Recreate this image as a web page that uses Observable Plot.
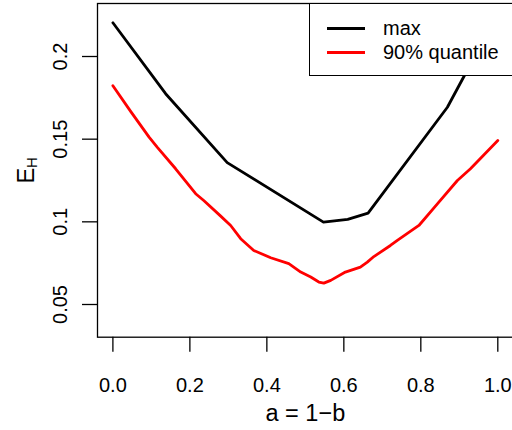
<!DOCTYPE html>
<html>
<head>
<meta charset="utf-8">
<script src="https://cdn.jsdelivr.net/npm/d3@7"></script>
<script src="https://cdn.jsdelivr.net/npm/@observablehq/plot@0.6"></script>
<style>
  html, body { margin: 0; padding: 0; background: #fff; }
  #wrap { position: relative; width: 512px; height: 430px; overflow: hidden;
          font-family: "Liberation Sans", Arial, Helvetica, sans-serif; }
  #wrap svg { display: block; }
  #wrap svg g[aria-label$="tick"] path, #wrap svg g.tick line { stroke-width: 1.3px; }
  #legend { position: absolute; left: 309px; top: 3px; width: 220px; height: 73px;
            background: #fff; border: 1.3px solid #000; box-sizing: border-box; }
  .item { position: absolute; left: 0; height: 24px; display: flex; align-items: center; }
  .sw { width: 38px; height: 3px; margin-left: 17px; margin-right: 18px; }
  .lab { font-size: 20px; color: #000; line-height: 24px; white-space: pre; }
</style>
</head>
<body>
<div id="wrap"></div>
<script>
// ---- data ----
const seriesNames = ["max", "90% quantile"];
const seriesColors = ["#000000", "#ff0000"];

const maxA = [0, 0.137, 0.297, 0.547, 0.61, 0.663, 0.869, 1.0];
const maxE = [0.2204, 0.1775, 0.1358, 0.0998, 0.1015, 0.1053, 0.1693, 0.226];

const q90A = [0, 0.047, 0.094, 0.115, 0.163, 0.215, 0.236, 0.278, 0.306, 0.332, 0.366, 0.41, 0.457,
              0.488, 0.514, 0.535, 0.548, 0.566, 0.604, 0.643, 0.661, 0.678, 0.721, 0.739, 0.795,
              0.843, 0.895, 0.929, 1.0];
const q90E = [0.1823, 0.1665, 0.1512, 0.1452, 0.1321, 0.117, 0.1129, 0.1039, 0.0978, 0.0898, 0.0827, 0.0783, 0.0747,
              0.0696, 0.0666, 0.0636, 0.0629, 0.0646, 0.0696, 0.0726, 0.0756, 0.079, 0.0857, 0.0888, 0.0978,
              0.1109, 0.125, 0.1321, 0.1492];

const xTicks = [0, 0.2, 0.4, 0.6, 0.8, 1.0];
const xTickLabels = ["0.0", "0.2", "0.4", "0.6", "0.8", "1.0"];
const yTicks = [0.05, 0.1, 0.15, 0.2];
const yTickLabels = ["0.05", "0.1", "0.15", "0.2"];
const xTitle = "a = 1\u2212b";
const yTitle = "E";
const yTitleSub = "H";

// ---- table for the library ----
const rows = [
  ...maxA.map((a, i) => ({a, e: maxE[i], s: seriesNames[0]})),
  ...q90A.map((a, i) => ({a, e: q90E[i], s: seriesNames[1]}))
];

const FONT = "'Liberation Sans', Arial, Helvetica, sans-serif";

const plot = Plot.plot({
  width: 512,
  height: 430,
  marginLeft: 97,
  marginRight: -0.7,
  marginTop: 3,
  marginBottom: 93.3,
  style: {fontFamily: FONT, fontSize: "20px", background: "transparent", color: "#000"},
  x: {domain: [-0.04, 1.04], ticks: xTicks, tickFormat: d => xTickLabels[xTicks.indexOf(d)],
      tickSize: 15, tickPadding: 26, label: null},
  y: {domain: [0.03022, 0.23206], ticks: yTicks, tickFormat: () => "", tickSize: 15, label: null},
  color: {domain: seriesNames, range: seriesColors},
  marks: [
    Plot.line(rows, {x: "a", y: "e", z: "s", stroke: "s", strokeWidth: 2.8, strokeLinejoin: "round"}),
    Plot.frame({stroke: "#000", strokeWidth: 1.3}),
    Plot.text(yTicks, {y: d => d, text: (d, i) => yTickLabels[i], frameAnchor: "left", dx: -37,
                       rotate: -90, textAnchor: "middle", lineAnchor: "middle", fontSize: 20}),
    Plot.text([xTitle], {frameAnchor: "bottom", text: d => d, dy: 76, fontSize: 23.5,
                         lineAnchor: "middle", textAnchor: "middle"}),
    Plot.text([yTitle], {frameAnchor: "left", text: d => d, dx: -71.2, rotate: -90, fontSize: 23.5,
                         lineAnchor: "middle", textAnchor: "middle"})
  ]
});

// subscript for the y title
plot.querySelectorAll("text").forEach(t => {
  if (t.textContent === yTitle) {
    const ts = document.createElementNS("http://www.w3.org/2000/svg", "tspan");
    ts.textContent = yTitleSub;
    ts.setAttribute("font-size", "15");
    ts.setAttribute("dy", "3.5");
    t.appendChild(ts);
  }
});

const wrap = document.getElementById("wrap");
wrap.appendChild(plot);

// legend (inside the plot area, top right, as in the reference)
const legend = document.createElement("div");
legend.id = "legend";
const legendTops = [12, 36.4];
seriesNames.forEach((name, i) => {
  const item = document.createElement("div");
  item.className = "item";
  item.style.top = legendTops[i] + "px";
  const sw = document.createElement("div");
  sw.className = "sw";
  sw.style.background = seriesColors[i];
  const lab = document.createElement("span");
  lab.className = "lab";
  lab.textContent = name;
  item.appendChild(sw);
  item.appendChild(lab);
  legend.appendChild(item);
});
wrap.appendChild(legend);
</script>
</body>
</html>
